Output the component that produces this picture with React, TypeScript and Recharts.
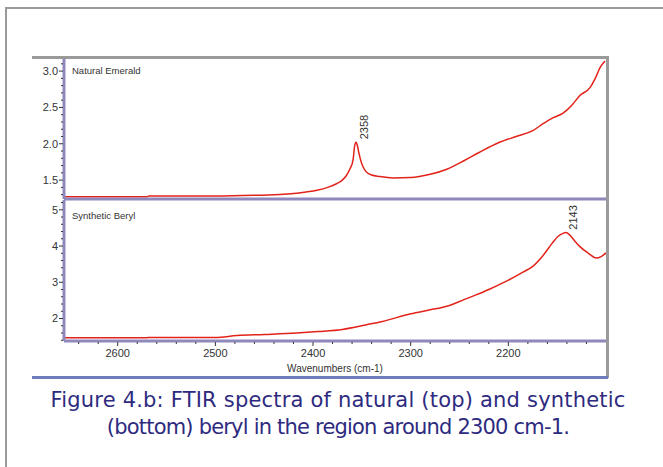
import { LineChart, Line, XAxis, YAxis, ReferenceDot } from 'recharts';

// Natural Emerald (top panel)
const emeraldWn = [2655, 2570, 2568, 2500, 2460, 2430, 2417, 2396, 2385, 2376, 2370, 2366, 2362, 2359, 2357.5, 2356, 2354.5, 2353, 2350, 2346, 2340, 2332, 2318, 2300, 2280, 2263, 2245, 2230, 2209, 2192, 2175, 2164, 2154, 2144, 2135, 2127, 2116, 2111, 2106, 2101];
const emeraldAbs = [1.27, 1.27, 1.28, 1.28, 1.29, 1.305, 1.32, 1.36, 1.4, 1.45, 1.5, 1.56, 1.66, 1.78, 1.96, 2.02, 1.97, 1.87, 1.72, 1.62, 1.57, 1.55, 1.53, 1.535, 1.58, 1.65, 1.77, 1.88, 2.02, 2.1, 2.18, 2.28, 2.36, 2.42, 2.53, 2.66, 2.78, 2.9, 3.05, 3.14];

// Synthetic Beryl (bottom panel)
const berylWn = [2655, 2570, 2568, 2500, 2478, 2450, 2417, 2395, 2370, 2345, 2329, 2300, 2280, 2263, 2250, 2237, 2220, 2202, 2185, 2175, 2165, 2155, 2149, 2144, 2141, 2137, 2132, 2127, 2118, 2110, 2105, 2100];
const berylAbs = [1.47, 1.47, 1.48, 1.48, 1.53, 1.56, 1.6, 1.64, 1.7, 1.83, 1.92, 2.13, 2.24, 2.34, 2.47, 2.61, 2.8, 3.03, 3.28, 3.44, 3.72, 4.08, 4.27, 4.35, 4.37, 4.3, 4.14, 3.99, 3.8, 3.67, 3.71, 3.81];

const xTicks = [2640, 2620, 2600, 2580, 2560, 2540, 2520, 2500, 2480, 2460, 2440, 2420, 2400, 2380, 2360, 2340, 2320, 2300, 2280, 2260, 2240, 2220, 2200, 2180, 2160, 2140, 2120];
const xMajor = [2600, 2500, 2400, 2300, 2200];
const emeraldTicks = [3.1, 3.0, 2.9, 2.8, 2.7, 2.6, 2.5, 2.4, 2.3, 2.2, 2.1, 2.0, 1.9, 1.8, 1.7, 1.6, 1.5, 1.4, 1.3];
const emeraldMajor = [3.0, 2.5, 2.0, 1.5];
const berylTicks = [5.2, 5.0, 4.8, 4.6, 4.4, 4.2, 4.0, 3.8, 3.6, 3.4, 3.2, 3.0, 2.8, 2.6, 2.4, 2.2, 2.0, 1.8, 1.6, 1.4];
const berylMajor = [5, 4, 3, 2];
const peakNames = ['2358', '2143'];

const emeraldData = emeraldWn.map((wn, i) => ({ wn, abs: emeraldAbs[i] }));
const berylData = berylWn.map((wn, i) => ({ wn, abs: berylAbs[i] }));

const argMax = (rows: { wn: number; abs: number }[], minWn: number) =>
  rows.filter((r) => r.wn > minWn).reduce((a, b) => (b.abs > a.abs ? b : a));
const emeraldPeak = argMax(emeraldData, 2300);
const berylPeak = argMax(berylData, 2120);

const RED = '#e2231a';
const AXIS = '#8f88bd';
const FONT = '"Liberation Sans", Arial, sans-serif';
const W = 663;
const margin = { left: 24, right: 57 };

function makeYTick(majors: number[], digits: number) {
  return (props: any) => {
    const { x, y, payload } = props;
    const major = majors.includes(payload.value);
    return (
      <g>
        <line x1={x - (major ? 5 : 3)} x2={x - 1} y1={y} y2={y} stroke="#333" />
        {major && (
          <text x={x - 6} y={y} dy="0.35em" textAnchor="end" fontSize={11} fill="#333" fontFamily={FONT}>
            {payload.value.toFixed(digits)}
          </text>
        )}
      </g>
    );
  };
}

function XTick(props: any) {
  const { x, y, payload } = props;
  const major = xMajor.includes(payload.value);
  return (
    <g>
      <line x1={x} x2={x} y1={y + 1} y2={y + (major ? 5 : 3)} stroke="#333" />
      {major && (
        <text x={x} y={y + 16} textAnchor="middle" fontSize={11} fill="#333" fontFamily={FONT}>
          {payload.value}
        </text>
      )}
    </g>
  );
}

function peakLabel(text: string, dx: number) {
  return (props: any) => {
    const { viewBox } = props;
    const cx = viewBox.x + viewBox.width / 2;
    const cy = viewBox.y + viewBox.height / 2;
    const tx = cx + dx;
    const ty = cy - 3;
    return (
      <text x={tx} y={ty} transform={`rotate(-90 ${tx} ${ty})`} fontSize={11} fill="#333" fontFamily={FONT}>
        {text}
      </text>
    );
  };
}

const abs = (style: React.CSSProperties): React.CSSProperties => ({ position: 'absolute', ...style });

export default function App() {
  return (
    <div style={{ position: 'absolute', left: 0, top: 0, width: W, height: 467, overflow: 'hidden', background: '#fff' }}>
      <div style={abs({ left: 5, top: 7, width: 700, height: 500, borderLeft: '2px solid #9a9a9a', borderTop: '2px solid #9a9a9a' })} />

      <div style={abs({ left: 0, top: 0 })}>
        <LineChart width={W} height={201} data={emeraldData} margin={{ top: 58, bottom: 0, ...margin }}>
          <XAxis dataKey="wn" type="number" domain={[2100, 2655]} reversed allowDataOverflow height={2} tick={false} tickLine={false} axisLine={{ stroke: AXIS, strokeWidth: 3 }} />
          <YAxis type="number" domain={[1.24, 3.18]} allowDataOverflow width={40} ticks={emeraldTicks} interval={0} tickSize={0} tickMargin={0} tickLine={false} tick={makeYTick(emeraldMajor, 1)} axisLine={{ stroke: AXIS, strokeWidth: 3 }} />
          <Line type="monotone" dataKey="abs" stroke={RED} strokeWidth={1.5} dot={false} isAnimationActive={false} />
          <ReferenceDot x={emeraldPeak.wn} y={emeraldPeak.abs} r={1} fill="none" stroke="none" label={peakLabel(peakNames[0], 12)} />
        </LineChart>
      </div>

      <div style={abs({ left: 0, top: 199 })}>
        <LineChart width={W} height={178} data={berylData} margin={{ top: 1, bottom: 0, ...margin }}>
          <XAxis dataKey="wn" type="number" domain={[2100, 2655]} reversed allowDataOverflow height={36} ticks={xTicks} interval={0} tickSize={0} tickMargin={0} tickLine={false} tick={<XTick />} axisLine={{ stroke: AXIS, strokeWidth: 3 }}
            label={{ value: 'Wavenumbers (cm-1)', position: 'insideBottom', offset: 5, fontSize: 10, fill: '#333', fontFamily: FONT }} />
          <YAxis type="number" domain={[1.38, 5.27]} allowDataOverflow width={40} ticks={berylTicks} interval={0} tickSize={0} tickMargin={0} tickLine={false} tick={makeYTick(berylMajor, 0)} axisLine={{ stroke: AXIS, strokeWidth: 3 }} />
          <Line type="monotone" dataKey="abs" stroke={RED} strokeWidth={1.5} dot={false} isAnimationActive={false} />
          <ReferenceDot x={berylPeak.wn} y={berylPeak.abs} r={1} fill="none" stroke="none" label={peakLabel(peakNames[1], 11)} />
        </LineChart>
      </div>

      <div style={abs({ left: 72, top: 65, fontSize: 9.5, color: '#333', fontFamily: FONT, whiteSpace: 'nowrap' })}>Natural Emerald</div>
      <div style={abs({ left: 72, top: 210, fontSize: 9.5, color: '#333', fontFamily: FONT, whiteSpace: 'nowrap' })}>Synthetic Beryl</div>

      <div style={abs({ left: 32, top: 56, width: 577, height: 3, background: '#9a9a9a' })} />
      <div style={abs({ left: 606, top: 56, width: 3, height: 322, background: '#9a9a9a' })} />
      <div style={abs({ left: 32, top: 376, width: 576, height: 3, background: '#6e7dbb' })} />

      <div style={abs({ left: 0, top: 387, width: 676, textAlign: 'center', fontSize: 21, lineHeight: '27px', color: '#2e2b7f', fontFamily: '"DejaVu Sans", sans-serif', whiteSpace: 'nowrap' })}>
        <span style={{ letterSpacing: '0.2px' }}>Figure 4.b: FTIR spectra of natural (top) and synthetic</span>
        <br />
        <span style={{ letterSpacing: '-0.8px' }}>(bottom) beryl in the region around 2300 cm-1.</span>
      </div>
    </div>
  );
}
